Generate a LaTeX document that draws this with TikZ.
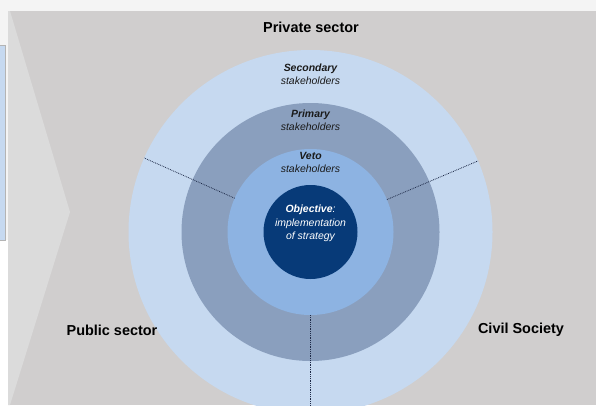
\documentclass[tikz,border=0pt]{standalone}
\usepackage{fontspec}
\setmainfont{Liberation Sans}
\definecolor{pagebg}{HTML}{F4F4F4}
\definecolor{canvasgray}{HTML}{D0CECE}
\definecolor{chevrongray}{HTML}{DBDBDB}
\definecolor{panelblue}{HTML}{C6D9F0}
\definecolor{panelrule}{HTML}{B4B4B4}
\definecolor{outerblue}{HTML}{C6D9F0}
\definecolor{primaryblue}{HTML}{8A9FBE}
\definecolor{vetoblue}{HTML}{8DB3E2}
\definecolor{coreblue}{HTML}{073A78}
\definecolor{labelink}{HTML}{1A1A1A}
\definecolor{divink}{HTML}{1E2A48}
\begin{document}
\begin{tikzpicture}[x=1bp,y=-1bp,
  ring/.style={circle, inner sep=0pt, outer sep=0pt, minimum size=#1},
  sector/.style={font=\fontsize{14.5}{16}\selectfont\bfseries, text=black, inner sep=0pt},
  ringlabel/.style={font=\fontsize{10.5}{13}\selectfont\itshape, align=center, text=labelink, inner sep=0pt},
  corelabel/.style={font=\fontsize{10.5}{13.5}\selectfont\itshape, align=center, text=white, inner sep=0pt},
  divider/.style={draw=divink, line width=0.8bp, densely dotted}]
\clip (0,0) rectangle (596,405);
% page, side panel and the gray canvas
\fill[pagebg] (0,0) rectangle (596,405);
\fill[white] (0,240) rectangle (8,405);
\filldraw[fill=panelblue, draw=panelrule, line width=0.6bp] (-2,45) rectangle (5.5,240);
\fill[canvasgray] (8,11) rectangle (596,405);
\fill[chevrongray] (8,11) -- (10,11) -- (70,212) -- (10,405) -- (8,405) -- cycle;
% concentric stakeholder rings
\coordinate (c) at (310.5,232);
\node[ring=364bp, fill=outerblue] (outer) at (c) {};
\node[ring=258bp, fill=primaryblue] (primary) at (c) {};
\node[ring=166bp, fill=vetoblue] (veto) at (c) {};
\node[ring=94bp, fill=coreblue] (core) at (c) {};
% dividers between the three sectors
\draw[divider] (veto.23.5) -- (outer.23.5);
\draw[divider] (veto.156.5) -- (outer.156.5);
\draw[divider] (veto.-90) -- (outer.-90);
% ring labels
\node[ringlabel] (secondary) at (310.5,74.5) {\textbf{Secondary}\\stakeholders};
\node[ringlabel] (primarylbl) at (310.5,120.5) {\textbf{Primary}\\stakeholders};
\node[ringlabel] (vetolbl) at (310.5,162.5) {\textbf{Veto}\\stakeholders};
\node[corelabel] (objective) at (310.5,223.5) {\textbf{Objective}:\\implementation\\of strategy};
% sector labels
\node[sector] (private) at (311,27) {Private sector};
\node[sector] (public) at (112,330) {Public sector};
\node[sector] (civil) at (521,330) {Civil Society};
\end{tikzpicture}
\end{document}
